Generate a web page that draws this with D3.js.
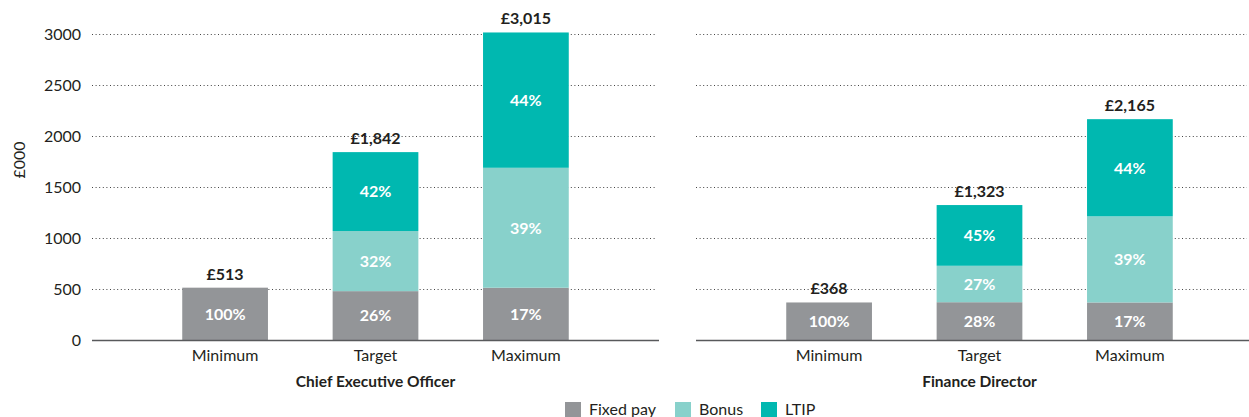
<!DOCTYPE html>
<html>
<head>
<meta charset="utf-8">
<script src="https://cdn.jsdelivr.net/npm/d3@7"></script>
<style>
  html, body { margin: 0; padding: 0; background: #fff; }
  svg { display: block; font-family: Lato, "Open Sans", sans-serif; }
</style>
</head>
<body>
<svg id="chart" width="1249" height="417"></svg>
<script>
// Remuneration scenarios (£000) and the component split of each bar
const scenarios = ["Minimum", "Target", "Maximum"];
const components = ["Fixed pay", "Bonus", "LTIP"];
const componentColors = ["#939598", "#88d1cb", "#00b8b0"];
const yTicks = [0, 500, 1000, 1500, 2000, 2500, 3000];

const ceoTotals = [513, 1842, 3015];
const ceoFixedPct = [100, 26, 17];
const ceoBonusPct = [0, 32, 39];
const ceoLtipPct = [0, 42, 44];

const fdTotals = [368, 1323, 2165];
const fdFixedPct = [100, 28, 17];
const fdBonusPct = [0, 27, 39];
const fdLtipPct = [0, 45, 44];

const panels = [
  { title: "Chief Executive Officer", totals: ceoTotals, pcts: [ceoFixedPct, ceoBonusPct, ceoLtipPct], x0: 92, x1: 659, showAxis: true },
  { title: "Finance Director", totals: fdTotals, pcts: [fdFixedPct, fdBonusPct, fdLtipPct], x0: 696, x1: 1263, showAxis: false }
];

const svg = d3.select("#chart");
const textColor = "#231f20";

const y = d3.scaleLinear().domain([0, 3000]).range([340, 34]);
const fmt = d3.format(",");

panels.forEach(p => {
  const g = svg.append("g");
  const x = d3.scaleBand().domain(scenarios).range([p.x0, p.x1]).paddingInner(0.43).paddingOuter(0.6);

  // dotted gridlines
  g.selectAll("line.grid").data(yTicks.filter(d => d > 0)).join("line")
    .attr("x1", p.x0).attr("x2", Math.min(p.x1, 1249) - 2)
    .attr("y1", d => Math.round(y(d)) + 0.5).attr("y2", d => Math.round(y(d)) + 0.5)
    .attr("stroke", "#444").attr("stroke-width", 1).attr("stroke-dasharray", "1,2.6");

  if (p.showAxis) {
    const axis = d3.axisLeft(y).tickValues(yTicks).tickFormat(d3.format("d")).tickSize(0).tickPadding(0);
    const ag = g.append("g").attr("transform", `translate(81,0)`).call(axis);
    ag.select(".domain").remove();
    ag.selectAll("text").attr("font-size", 16).attr("fill", textColor).attr("dy", "0.32em")
      .attr("font-family", "Lato, sans-serif");
  }

  // stacked segments
  const stacked = scenarios.map((s, i) => {
    let acc = 0;
    return components.map((c, k) => {
      const v = p.totals[i] * p.pcts[k][i] / 100;
      const seg = { scenario: s, comp: k, y0: acc, y1: acc + v, pct: p.pcts[k][i] };
      acc += v;
      return seg;
    }).filter(d => d.pct > 0);
  }).flat();

  g.selectAll("rect.seg").data(stacked).join("rect")
    .attr("x", d => x(d.scenario)).attr("width", x.bandwidth())
    .attr("y", d => y(d.y1)).attr("height", d => y(d.y0) - y(d.y1))
    .attr("fill", d => componentColors[d.comp]);

  g.selectAll("text.pct").data(stacked).join("text")
    .attr("x", d => x(d.scenario) + x.bandwidth() / 2)
    .attr("y", d => (y(d.y0) + y(d.y1)) / 2)
    .attr("dy", "0.36em").attr("text-anchor", "middle")
    .attr("fill", "#fff").attr("font-size", 16).attr("font-weight", 700)
    .text(d => d.pct + "%");

  // totals above bars
  g.selectAll("text.total").data(scenarios).join("text")
    .attr("x", d => x(d) + x.bandwidth() / 2)
    .attr("y", (d, i) => y(p.totals[i]) - 8)
    .attr("text-anchor", "middle").attr("fill", textColor)
    .attr("font-size", 16).attr("font-weight", 700)
    .text((d, i) => "£" + fmt(p.totals[i]));

  // baseline
  g.append("line").attr("x1", p.x0).attr("x2", Math.min(p.x1, 1249))
    .attr("y1", 340.5).attr("y2", 340.5).attr("stroke", "#58595b").attr("stroke-width", 1.5);

  // category labels
  g.selectAll("text.cat").data(scenarios).join("text")
    .attr("x", d => x(d) + x.bandwidth() / 2).attr("y", 361)
    .attr("text-anchor", "middle").attr("fill", textColor).attr("font-size", 16)
    .text(d => d);

  g.append("text").attr("x", (p.x0 + p.x1) / 2).attr("y", 387)
    .attr("text-anchor", "middle").attr("fill", textColor).attr("font-size", 15.5).attr("font-weight", 700)
    .text(p.title);
});

// y-axis title
svg.append("text").attr("transform", "translate(25,160) rotate(-90)")
  .attr("text-anchor", "middle").attr("fill", textColor).attr("font-size", 16).text("£000");

// legend
const legendX = [565, 675, 761];
const lg = svg.append("g");
components.forEach((c, i) => {
  lg.append("rect").attr("x", legendX[i]).attr("y", 402).attr("width", 16).attr("height", 16).attr("fill", componentColors[i]);
  lg.append("text").attr("x", legendX[i] + 24).attr("y", 415).attr("fill", textColor).attr("font-size", 16).text(c);
});
</script>
</body>
</html>
